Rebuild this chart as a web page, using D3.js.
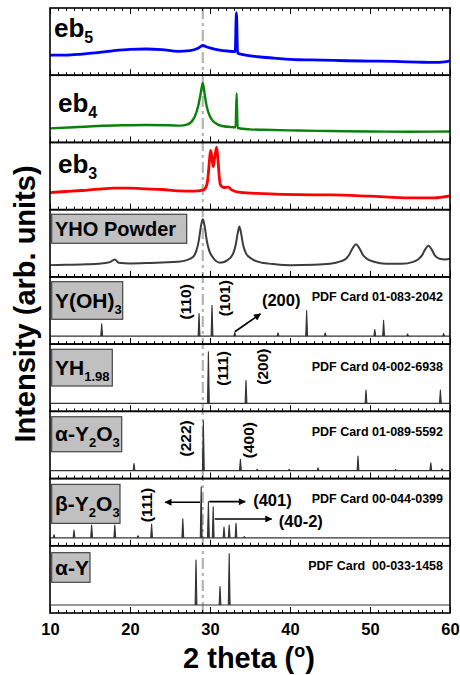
<!DOCTYPE html>
<html><head><meta charset="utf-8">
<script src="https://cdn.jsdelivr.net/npm/d3@7"></script>
<style>
html,body{margin:0;padding:0;background:#fff;}
svg{display:block;}
text{font-family:"Liberation Sans",Arial,Helvetica,sans-serif;font-weight:bold;}
</style></head>
<body>
<svg id="chart" width="460" height="675"></svg>
<script>
// ---------------- DATA ----------------
const xTicks = [10, 20, 30, 40, 50, 60];
const xTickLabels = ["10", "20", "30", "40", "50", "60"];
const refLine2Theta = 29.1;

// Measured patterns: [2theta, relative intensity in panel units 0-100]
const eb5 = [[10,30],[12,30],[14,31.5],[16,33.5],[18,36.5],[20,38.5],[22,39],[24,38],[26,35.5],[27.5,36.5],[28.5,40],[29.1,44.5],[29.6,42],[30.2,40],[31.2,37.5],[32.2,36],[33.15,35],[33.3,93],[33.45,33],[34,31],[36,27.5],[38,25.5],[41,23],[44,22.5],[47,21.5],[50,21],[53,20.5],[56,19.5],[58,19],[59.3,20],[60,21.5]];
const eb4 = [[10,21],[13,22.5],[16,24.5],[19,25.5],[22,26],[25,25.5],[26.3,25],[27.1,26.5],[27.7,31],[28.1,38.5],[28.5,53],[28.8,70.5],[29.1,88.5],[29.35,70.5],[29.6,53],[30,38.5],[30.6,29.5],[31.5,24.5],[32.9,22.7],[33.2,22.5],[33.33,73],[33.45,21.5],[35,19.5],[36.7,18.8],[41,17.7],[45,17],[50,16.2],[55,16],[60,16.2]];
const eb3 = [[10,25.5],[12,27],[14,28.5],[16,30.5],[18,32],[20,32],[22,31],[24,30],[26,28],[28,27.5],[29.2,29.5],[29.6,37],[29.8,54.5],[29.95,76],[30.08,88],[30.25,77],[30.4,64],[30.58,77],[30.83,93],[31,74],[31.15,50],[31.3,37],[31.7,33],[32.3,33.5],[32.7,29.5],[33.75,25.7],[36.7,23.8],[41,22.3],[45,22],[50,20],[55,17.5],[58,17.5],[60,20.5]];
const yhoPowder = [[10,17.5],[12,18],[14,18.5],[16,19.5],[17.5,22],[18.1,26],[18.6,21],[20,20],[22,20.5],[24,21.5],[26,22.5],[27.1,25],[27.9,30],[28.3,39],[28.6,54],[28.85,74],[29.1,86],[29.35,74],[29.6,54],[29.9,39],[30.3,30],[31.3,21],[32.2,25],[32.9,35],[33.2,47],[33.45,64],[33.67,75],[33.9,64],[34.15,47],[34.5,35],[35.2,27],[36.5,21],[38,19],[40,17.5],[43,18],[45,19.5],[46.3,23],[47,27],[47.4,33],[47.85,43],[48.25,48.5],[48.65,43],[49.1,33],[49.6,27],[50.5,22.5],[52,19.5],[54,19.5],[55.3,22],[56,26],[56.5,32],[56.9,41],[57.3,46.5],[57.7,41],[58.1,32],[58.7,27],[59.4,26],[60,27]];

// Reference (PDF card) patterns: [2theta, relative intensity]
const yoh3Peaks = [[16.46,21],[28.63,38],[30.25,52],[33.1,6],[38.5,5.5],[42.08,43],[44.4,5.5],[50.6,11],[51.7,26.5],[54.7,3.5],[59.2,4.5]];
const yh198Peaks = [[29.8,87],[34.5,39],[49.5,22.5],[58.8,22.5]];
const alphaY2O3Peaks = [[20.5,12],[29.17,84],[33.8,19],[35.9,2],[39.9,2],[43.5,4.5],[48.5,24.5],[53.2,1.7],[57.6,13],[59.0,3]];
const betaY2O3Peaks = [[10.5,5],[13.0,13],[15.2,21.5],[18.1,21.5],[21.0,3.5],[22.7,23],[26.6,32],[28.9,86],[29.8,61],[30.4,52.5],[31.75,18],[32.4,21.6],[33.25,24.5],[34.3,2]];
const alphaYPeaks = [[28.25,76],[31.25,31],[32.4,87]];

const panelNames = ["eb5","eb4","eb3","YHO Powder","Y(OH)3","YH1.98","α-Y2O3","β-Y2O3","α-Y"];
const pdfCards = ["", "", "", "", "PDF Card 01-083-2042", "PDF Card 04-002-6938", "PDF Card 01-089-5592", "PDF Card 00-044-0399", "PDF Card  00-033-1458"];

// Miller index annotations: [panel, 2theta, intensity, text, rotated]
const hklLabels = [
  [4, 26.9, 58, "(110)", true], [4, 31.75, 64, "(101)", true], [4, 38.9, 61, "(200)", false],
  [5, 31.5, 59, "(111)", true], [5, 36.5, 62, "(200)", true],
  [6, 26.9, 54.4, "(222)", true], [6, 34.8, 51.5, "(400)", true],
  [7, 22.1, 55.4, "(111)", true]
];
const hklLeftLabels = [[7, 35.4, 63, "(401)"], [7, 38.6, 29, "(40-2)"]];
// arrows: [panel, x1, y1, x2, y2]
const arrows = [
  [4, 33.1, 7.4, 36.3, 37.5],
  [7, 28.75, 60, 24.4, 60],
  [7, 29.9, 61, 34.4, 61],
  [7, 30.6, 31.8, 37.7, 31.8]
];

// ---------------- LAYOUT ----------------
const svg = d3.select("#chart");
const L = 50, R = 450, T = 8, B = 613;
const nP = 9, ph = (B - T) / nP;
const x = d3.scaleLinear().domain([10, 60]).range([L, R]);
const pTop = i => T + i * ph;
const font = '"Liberation Sans",Arial,Helvetica,sans-serif';

const measured = [
  {data: eb5, color: "#0000ff", w: 2.8},
  {data: eb4, color: "#0a820a", w: 2.4},
  {data: eb3, color: "#ff0000", w: 2.8},
  {data: yhoPowder, color: "#3c3c3c", w: 2}
];
const sticks = [yoh3Peaks, yh198Peaks, alphaY2O3Peaks, betaY2O3Peaks, alphaYPeaks];

function yMeas(i) { return d3.scaleLinear().domain([0, 100]).range([pTop(i + 1), pTop(i)]); }
function yStick(i) { return d3.scaleLinear().domain([0, 100]).range([pTop(i + 1) - 8, pTop(i + 1) - 8 - 59.2]); }

svg.append("defs").append("marker").attr("id", "ah").attr("viewBox", "0 0 10 10")
  .attr("refX", 9).attr("refY", 5).attr("markerWidth", 9).attr("markerHeight", 7)
  .attr("markerUnits", "userSpaceOnUse").attr("orient", "auto")
  .append("path").attr("d", "M0,0 L10,5 L0,10 Z").attr("fill", "#000");

// reference vertical dash-dot line (behind)
svg.append("line").attr("x1", x(refLine2Theta)).attr("x2", x(refLine2Theta))
  .attr("y1", T).attr("y2", B).attr("stroke", "#b4b4b4").attr("stroke-width", 2.2)
  .attr("stroke-dasharray", "11,4,3,4");

// measured patterns
measured.forEach((m, i) => {
  const y = yMeas(i);
  svg.append("path").datum(m.data)
    .attr("d", d3.line().x(d => x(d[0])).y(d => y(d[1])).curve(d3.curveMonotoneX))
    .attr("fill", "none").attr("stroke", m.color).attr("stroke-width", m.w).attr("stroke-linejoin", "round");
});

// stick patterns
sticks.forEach((pk, k) => {
  const i = k + 4, y = yStick(i);
  svg.append("line").attr("x1", x(10)).attr("x2", x(60)).attr("y1", y(0)).attr("y2", y(0))
    .attr("stroke", "#333").attr("stroke-width", 1.2);
  svg.append("g").selectAll("path").data(pk).join("path")
    .attr("d", d => d3.line()([[x(d[0]) - 0.9, y(0)], [x(d[0]), y(d[1])], [x(d[0]) + 0.9, y(0)]]))
    .attr("fill", "#333").attr("stroke", "#333").attr("stroke-width", 1.1).attr("stroke-linejoin", "round");
});

// axes / frames
for (let i = 0; i < nP; i++) {
  const yb = pTop(i + 1);
  const gMin = svg.append("g").attr("transform", `translate(0,${yb})`)
    .call(d3.axisBottom(x).tickValues(d3.range(10, 61, 1)).tickSize(-3).tickFormat(""));
  const gMaj = svg.append("g").attr("transform", `translate(0,${yb})`)
    .call(d3.axisBottom(x).tickValues(xTicks).tickSize(-6).tickFormat(""));
  [gMin, gMaj].forEach(g => { g.select(".domain").remove(); g.selectAll("line").attr("stroke", "#000").attr("stroke-width", 1); });
  svg.append("rect").attr("x", L).attr("y", pTop(i)).attr("width", R - L).attr("height", ph)
    .attr("fill", "none").attr("stroke", "#000").attr("stroke-width", 1.6);
}
// top ticks of the first panel
{
  const gMin = svg.append("g").attr("transform", `translate(0,${T})`)
    .call(d3.axisTop(x).tickValues(d3.range(10, 61, 1)).tickSize(-3).tickFormat(""));
  const gMaj = svg.append("g").attr("transform", `translate(0,${T})`)
    .call(d3.axisTop(x).tickValues(xTicks).tickSize(-6).tickFormat(""));
  [gMin, gMaj].forEach(g => { g.select(".domain").remove(); g.selectAll("line").attr("stroke", "#000").attr("stroke-width", 1); });
}
// bottom tick labels
const gLab = svg.append("g").attr("transform", `translate(0,${B})`)
  .call(d3.axisBottom(x).tickValues(xTicks).tickSize(0).tickPadding(10).tickFormat((d, j) => xTickLabels[j]));
gLab.select(".domain").remove();
gLab.selectAll("text").attr("font-family", font).attr("font-weight", "bold").attr("font-size", 16.5).attr("fill", "#000");

// eb labels
const ebPos = [[54, 28.7], [58, 36.5], [58, 30.6]];
[["eb", "5"], ["eb", "4"], ["eb", "3"]].forEach((t, i) => {
  const tx = svg.append("text").attr("x", ebPos[i][0]).attr("y", pTop(i) + ebPos[i][1])
    .attr("font-size", 26).attr("fill", "#000");
  tx.append("tspan").text(t[0]);
  tx.append("tspan").attr("font-size", 16).attr("dy", 6).text(t[1]);
});

// boxed labels
const boxes = [
  {i: 3, w: 135, h: 29, dy: 4.6, parts: [["YHO Powder", 0]], fs: 20},
  {i: 4, w: 71, h: 37.6, dy: 4.8, parts: [["Y(OH)", 0], ["3", 1]], fs: 21},
  {i: 5, w: 60.6, h: 36.7, dy: 5.2, parts: [["YH", 0], ["1.98", 1]], fs: 21},
  {i: 6, w: 70, h: 35, dy: 5.4, parts: [["α-Y", 0], ["2", 1], ["O", 0], ["3", 1]], fs: 21},
  {i: 7, w: 68.3, h: 39, dy: 5.8, parts: [["β-Y", 0], ["2", 1], ["O", 0], ["3", 1]], fs: 21},
  {i: 8, w: 38.3, h: 29.6, dy: 6.9, parts: [["α-Y", 0]], fs: 21}
];
boxes.forEach(b => {
  const y0 = pTop(b.i) + b.dy;
  svg.append("rect").attr("x", L + 1.7).attr("y", y0).attr("width", b.w).attr("height", b.h)
    .attr("fill", "#c0c0c0").attr("stroke", "#444").attr("stroke-width", 1.2);
  const tx = svg.append("text").attr("x", L + 5).attr("y", y0 + b.h / 2 + 7.2)
    .attr("font-size", b.fs).attr("fill", "#000");
  let prev = 0;
  b.parts.forEach(p => {
    const s = tx.append("tspan").text(p[0]);
    if (p[1] === 1) { s.attr("font-size", 13); }
    s.attr("dy", (p[1] - prev) * 6);
    prev = p[1];
  });
});

// PDF card labels
pdfCards.forEach((t, i) => {
  if (!t) return;
  svg.append("text").attr("x", 443).attr("y", pTop(i) + (i === 5 ? 22.6 : 20) + 4.3)
    .attr("text-anchor", "end").attr("font-size", 12.5).attr("fill", "#000")
    .attr("xml:space", "preserve").style("white-space", "pre").text(t);
});

// hkl labels
hklLabels.forEach(h => {
  const y = yStick(h[0]);
  const px = x(h[1]), py = y(h[2]);
  const t = svg.append("text").attr("font-size", 15.5).attr("fill", "#000")
    .attr("text-anchor", "middle").attr("dominant-baseline", "central").text(h[3]);
  if (h[4]) t.attr("transform", `translate(${px},${py}) rotate(-90)`);
  else t.attr("x", px).attr("y", py).attr("font-size", 16.5);
});
hklLeftLabels.forEach(h => {
  const y = yStick(h[0]);
  svg.append("text").attr("x", x(h[1])).attr("y", y(h[2])).attr("dominant-baseline", "central")
    .attr("font-size", 16.5).attr("fill", "#000").text(h[3]);
});
arrows.forEach(a => {
  const y = yStick(a[0]);
  svg.append("line").attr("x1", x(a[1])).attr("y1", y(a[2])).attr("x2", x(a[3])).attr("y2", y(a[4]))
    .attr("stroke", "#000").attr("stroke-width", 1.6).attr("marker-end", "url(#ah)");
});

// axis titles
const xt = svg.append("text").attr("x", 249).attr("y", 668).attr("text-anchor", "middle")
  .attr("font-size", 29).attr("fill", "#000");
xt.append("tspan").text("2 theta (");
xt.append("tspan").attr("font-size", 18).attr("dy", -11).text("o");
xt.append("tspan").attr("dy", 11).text(")");

svg.append("text").attr("transform", "translate(35,304) rotate(-90)").attr("text-anchor", "middle")
  .attr("font-size", 29).attr("fill", "#000").text("Intensity (arb. units)");
</script>
</body></html>
